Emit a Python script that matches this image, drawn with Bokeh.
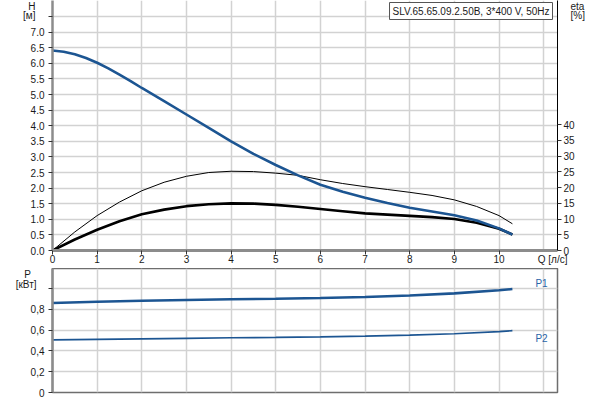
from bokeh.plotting import figure
from bokeh.layouts import column
from bokeh.models import (Range1d, LinearAxis, FixedTicker, Label, NumeralTickFormatter)
from bokeh.embed import file_html
from bokeh.resources import INLINE

# ---------------- data ----------------
q_h = [0, 0.25, 0.5, 0.75, 1, 1.25, 1.5, 1.75, 2, 2.5, 3, 3.5, 4, 4.5, 5, 5.5, 6, 6.5, 7, 7.5,
       8, 8.5, 9, 9.5, 10, 10.3]
head = [6.41, 6.37, 6.29, 6.17, 6.02, 5.84, 5.64, 5.43, 5.21, 4.79, 4.36, 3.93, 3.5, 3.1, 2.74,
        2.41, 2.11, 1.88, 1.69, 1.52, 1.37, 1.25, 1.13, 0.96, 0.71, 0.51]
q = [0, 0.5, 1, 1.5, 2, 2.5, 3, 3.5, 4, 4.5, 5, 5.5, 6, 6.5, 7, 7.5, 8, 8.5, 9, 9.5, 10, 10.3]
eta_pump = [0, 5.9, 11.1, 15.4, 19.0, 21.7, 23.6, 24.8, 25.2, 25.1, 24.6, 23.9, 22.5, 21.3, 20.3,
            19.4, 18.5, 17.5, 16.1, 14.0, 11.1, 8.5]
eta_total = [0, 3.5, 6.6, 9.3, 11.5, 13.0, 14.1, 14.7, 15.0, 14.9, 14.5, 13.9, 13.2, 12.5, 11.8,
             11.4, 11.0, 10.6, 10.0, 8.8, 6.9, 5.1]
q_p = [0, 1, 2, 3, 4, 5, 6, 7, 8, 9, 10, 10.3]
p1 = [0.862, 0.874, 0.884, 0.892, 0.898, 0.903, 0.91, 0.92, 0.935, 0.955, 0.985, 0.997]
p2 = [0.507, 0.512, 0.517, 0.522, 0.527, 0.531, 0.536, 0.543, 0.553, 0.566, 0.587, 0.596]

x_ticks = list(range(0, 12))
x_label_ticks = list(range(0, 11))
h_ticks = [i * 0.5 for i in range(0, 16)]
eta_ticks = list(range(0, 45, 5))
p_ticks = [0, 0.2, 0.4, 0.6, 0.8, 1.0]
title_text = "SLV.65.65.09.2.50B, 3*400 V, 50Hz"
q_name, h_name, h_unit = "Q [л/с]", "H", "[м]"
eta_name, eta_unit = "eta", "[%]"
p_name, p_unit = "P\u00a0\u00a0", "[кВт]"

FONT = "Liberation Sans"
FS = "10px"
BLUE = "#1c5592"
LBLUE = "#2a64a8"
GRID = "#d2d2d2"
AXIS_GRAY = "#8c8c8c"
TXT = "#1a1a1a"


def style_axis(ax, line_color=AXIS_GRAY, line_width=2.5, tick_out=4, standoff=3):
    ax.axis_line_color = line_color
    ax.axis_line_width = line_width
    ax.major_tick_out = tick_out
    ax.major_tick_in = 0
    ax.major_tick_line_color = "#333333"
    ax.minor_tick_line_color = None
    ax.major_label_standoff = standoff
    ax.major_label_text_font = FONT
    ax.major_label_text_font_size = FS
    ax.major_label_text_color = TXT


def name_axis(ax, standoff):
    ax.axis_line_color = None
    ax.major_tick_line_color = None
    ax.major_tick_out = 0
    ax.major_tick_in = 0
    ax.minor_tick_line_color = None
    ax.major_label_standoff = standoff
    ax.major_label_text_font = FONT
    ax.major_label_text_font_size = FS
    ax.major_label_text_color = TXT


# ---------------- top figure ----------------
pt = figure(width=600, height=268, output_backend="svg", toolbar_location=None,
            x_range=Range1d(0, 11.31), y_range=Range1d(0, 8.015),
            min_border_left=52, min_border_right=43, min_border_top=0, min_border_bottom=18)
pt.outline_line_color = None
pt.extra_y_ranges = {"eta": Range1d(0, 79.5)}

pt.xaxis.ticker = FixedTicker(ticks=x_label_ticks)
pt.yaxis.ticker = FixedTicker(ticks=h_ticks)
pt.yaxis.formatter = NumeralTickFormatter(format="0.0")
pt.yaxis.major_label_overrides = {7.5: ""}
style_axis(pt.xaxis[0], line_width=3, standoff=0)
style_axis(pt.yaxis[0], standoff=4)

eta_axis = LinearAxis(y_range_name="eta", ticker=FixedTicker(ticks=eta_ticks))
style_axis(eta_axis, line_color="black", line_width=1, standoff=2)
pt.add_layout(eta_axis, "right")

# axis names, drawn as labels of extra axes
h_name_axis = LinearAxis(ticker=FixedTicker(ticks=[7.535, 7.92]))
h_name_axis.major_label_overrides = {7.535: h_unit, 7.92: h_name}
name_axis(h_name_axis, -8)
pt.add_layout(h_name_axis, "left")

eta_name_axis = LinearAxis(y_range_name="eta", ticker=FixedTicker(ticks=[74.7, 78.6]))
eta_name_axis.major_label_overrides = {74.7: eta_unit, 78.6: eta_name}
name_axis(eta_name_axis, -7)
pt.add_layout(eta_name_axis, "right")

q_name_axis = LinearAxis(ticker=FixedTicker(ticks=[11.2]))
q_name_axis.major_label_overrides = {11.2: q_name}
name_axis(q_name_axis, -12)
pt.add_layout(q_name_axis, "below")

pt.xgrid.ticker = FixedTicker(ticks=x_ticks)
pt.ygrid.ticker = FixedTicker(ticks=h_ticks)
pt.xgrid.grid_line_color = GRID
pt.ygrid.grid_line_color = GRID
pt.xgrid.grid_line_width = 1.5
pt.ygrid.grid_line_width = 1.5

pt.line(q, eta_pump, y_range_name="eta", line_color="black", line_width=1)
pt.line(q, eta_total, y_range_name="eta", line_color="black", line_width=2.6)
pt.line(q_h, head, line_color=BLUE, line_width=2.6)

pt.add_layout(Label(x=500, y=239.5, x_units="screen", y_units="screen", text=title_text,
                    text_font=FONT, text_font_size=FS, text_color=TXT,
                    text_align="right", text_baseline="middle",
                    border_line_color="#555555", border_line_width=1,
                    background_fill_color="white", padding=3))

# ---------------- bottom figure ----------------
pb = figure(width=600, height=132, output_backend="svg", toolbar_location=None,
            x_range=pt.x_range, y_range=Range1d(0, 1.195),
            min_border_left=52, min_border_right=43, min_border_top=0, min_border_bottom=8)
pb.outline_line_color = "#6e6e6e"
pb.outline_line_width = 1.5
pb.xaxis.visible = False
pb.yaxis.ticker = FixedTicker(ticks=p_ticks)
pb.yaxis.major_label_overrides = {0: "0", 0.2: "0,2", 0.4: "0,4", 0.6: "0,6", 0.8: "0,8", 1.0: ""}
style_axis(pb.yaxis[0], standoff=4)

p_name_axis = LinearAxis(ticker=FixedTicker(ticks=[1.036, 1.152]))
p_name_axis.major_label_overrides = {1.036: p_unit, 1.152: p_name}
name_axis(p_name_axis, -9)
pb.add_layout(p_name_axis, "left")

pb.xgrid.ticker = FixedTicker(ticks=x_ticks)
pb.ygrid.ticker = FixedTicker(ticks=p_ticks)
pb.xgrid.grid_line_color = GRID
pb.ygrid.grid_line_color = GRID
pb.xgrid.grid_line_width = 1.5
pb.ygrid.grid_line_width = 1.5

pb.line(q_p, p1, line_color=BLUE, line_width=2.6)
pb.line(q_p, p2, line_color=BLUE, line_width=1.6)

for txt, yy in (("P1", 109), ("P2", 54)):
    pb.add_layout(Label(x=489, y=yy, x_units="screen", y_units="screen", text=txt,
                        text_font=FONT, text_font_size=FS, text_color=LBLUE,
                        text_align="center", text_baseline="middle"))

layout = column(pt, pb, spacing=0)
open("out.html", "w").write(file_html(layout, INLINE))
